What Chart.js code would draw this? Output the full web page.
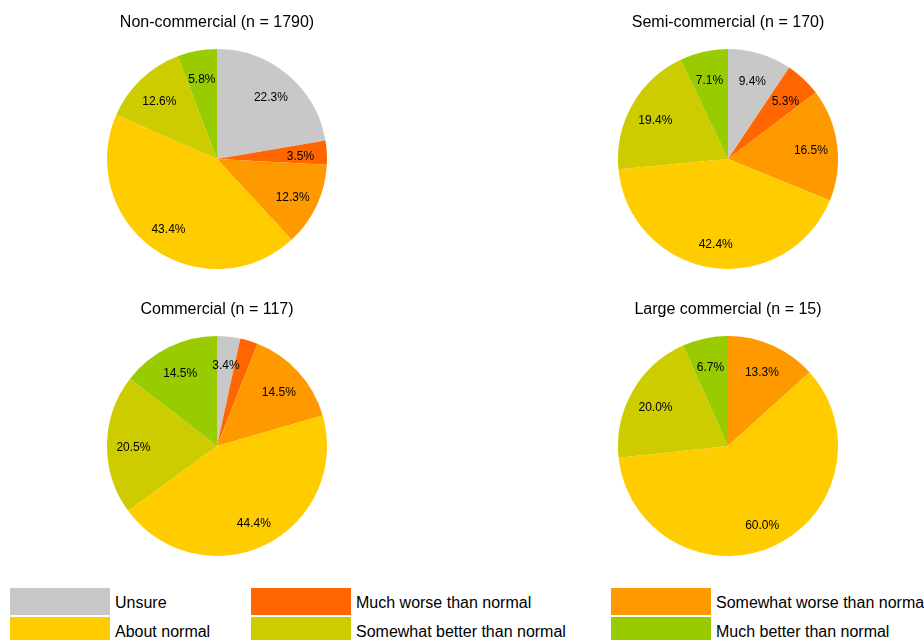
<!DOCTYPE html>
<html>
<head>
<meta charset="utf-8">
<script src="https://cdn.jsdelivr.net/npm/chart.js@4"></script>
<style>
    html, body { margin: 0; padding: 0; background: #fff; }
    body { width: 924px; height: 640px; position: relative; overflow: hidden; font-family: "Liberation Sans", Arial, sans-serif; }
    canvas { position: absolute; }
    .legend-item { position: absolute; height: 27px; }
    .legend-box { position: absolute; left: 0; top: 0; width: 100px; height: 27px; }
    .legend-text { position: absolute; left: 105px; top: 1px; line-height: 27px; font-size: 16px; color: #000; white-space: nowrap; }
</style>
</head>
<body>
<canvas id="chart-non" width="240" height="269" style="left:97px;top:0px"></canvas>
<canvas id="chart-semi" width="240" height="269" style="left:608px;top:0px"></canvas>
<canvas id="chart-com" width="240" height="269" style="left:97px;top:287px"></canvas>
<canvas id="chart-large" width="240" height="269" style="left:608px;top:287px"></canvas>
<div id="legend"></div>

<script>
const categories = ['Unsure', 'Much worse than normal', 'Somewhat worse than normal',
    'About normal', 'Somewhat better than normal', 'Much better than normal'];
const colors = ['#c8c8c8', '#ff6600', '#ff9900', '#ffcc00', '#cccc00', '#99cc00'];

const nonCommercial = [22.3, 3.5, 12.3, 43.4, 12.6, 5.8];
const semiCommercial = [9.4, 5.3, 16.5, 42.4, 19.4, 7.1];
const commercial = [3.4, 2.6, 14.5, 44.4, 20.5, 14.5];
const largeCommercial = [0, 0, 13.3, 60.0, 20.0, 6.7];

const titles = ['Non-commercial (n = 1790)', 'Semi-commercial (n = 170)',
    'Commercial (n = 117)', 'Large commercial (n = 15)'];

// small slices get no label
const labelMin = 3;

const sliceLabels = {
    id: 'sliceLabels',
    afterDatasetsDraw(chart) {
        const ctx = chart.ctx;
        const meta = chart.getDatasetMeta(0);
        const values = chart.data.datasets[0].data;
        ctx.save();
        ctx.font = '12px "Liberation Sans", Arial, sans-serif';
        ctx.fillStyle = '#000';
        ctx.textAlign = 'center';
        ctx.textBaseline = 'middle';
        meta.data.forEach((arc, i) => {
            const v = values[i];
            if (!v || v < labelMin) return;
            const p = arc.getProps(['x', 'y', 'startAngle', 'endAngle', 'outerRadius'], true);
            const mid = (p.startAngle + p.endAngle) / 2;
            const r = p.outerRadius * 0.76;
            ctx.fillText(v.toFixed(1) + '%', p.x + Math.cos(mid) * r, p.y + Math.sin(mid) * r + 3);
        });
        ctx.restore();
    }
};

function makePie(id, title, values) {
    new Chart(document.getElementById(id), {
        type: 'pie',
        data: {
            labels: categories,
            datasets: [{
                data: values,
                backgroundColor: colors,
                borderWidth: 0
            }]
        },
        options: {
            responsive: false,
            animation: false,
            events: [],
            layout: { padding: 0 },
            plugins: {
                legend: { display: false },
                tooltip: { enabled: false },
                title: {
                    display: true,
                    text: title,
                    color: '#000',
                    font: { family: '"Liberation Sans", Arial, sans-serif', size: 16, weight: 'normal', lineHeight: 1.2 },
                    padding: { top: 13.4, bottom: 16.4 }
                }
            }
        },
        plugins: [sliceLabels]
    });
}

makePie('chart-non', titles[0], nonCommercial);
makePie('chart-semi', titles[1], semiCommercial);
makePie('chart-com', titles[2], commercial);
makePie('chart-large', titles[3], largeCommercial);

// legend, 3 columns x 2 rows
const legendCols = [10, 251, 611];
const legendRows = [588, 617];
const legend = document.getElementById('legend');
categories.forEach((name, i) => {
    const item = document.createElement('div');
    item.className = 'legend-item';
    item.style.left = legendCols[i % 3] + 'px';
    item.style.top = legendRows[Math.floor(i / 3)] + 'px';
    item.innerHTML = '<div class="legend-box" style="background:' + colors[i] + '"></div>' +
        '<div class="legend-text">' + name + '</div>';
    legend.appendChild(item);
});
</script>
</body>
</html>
